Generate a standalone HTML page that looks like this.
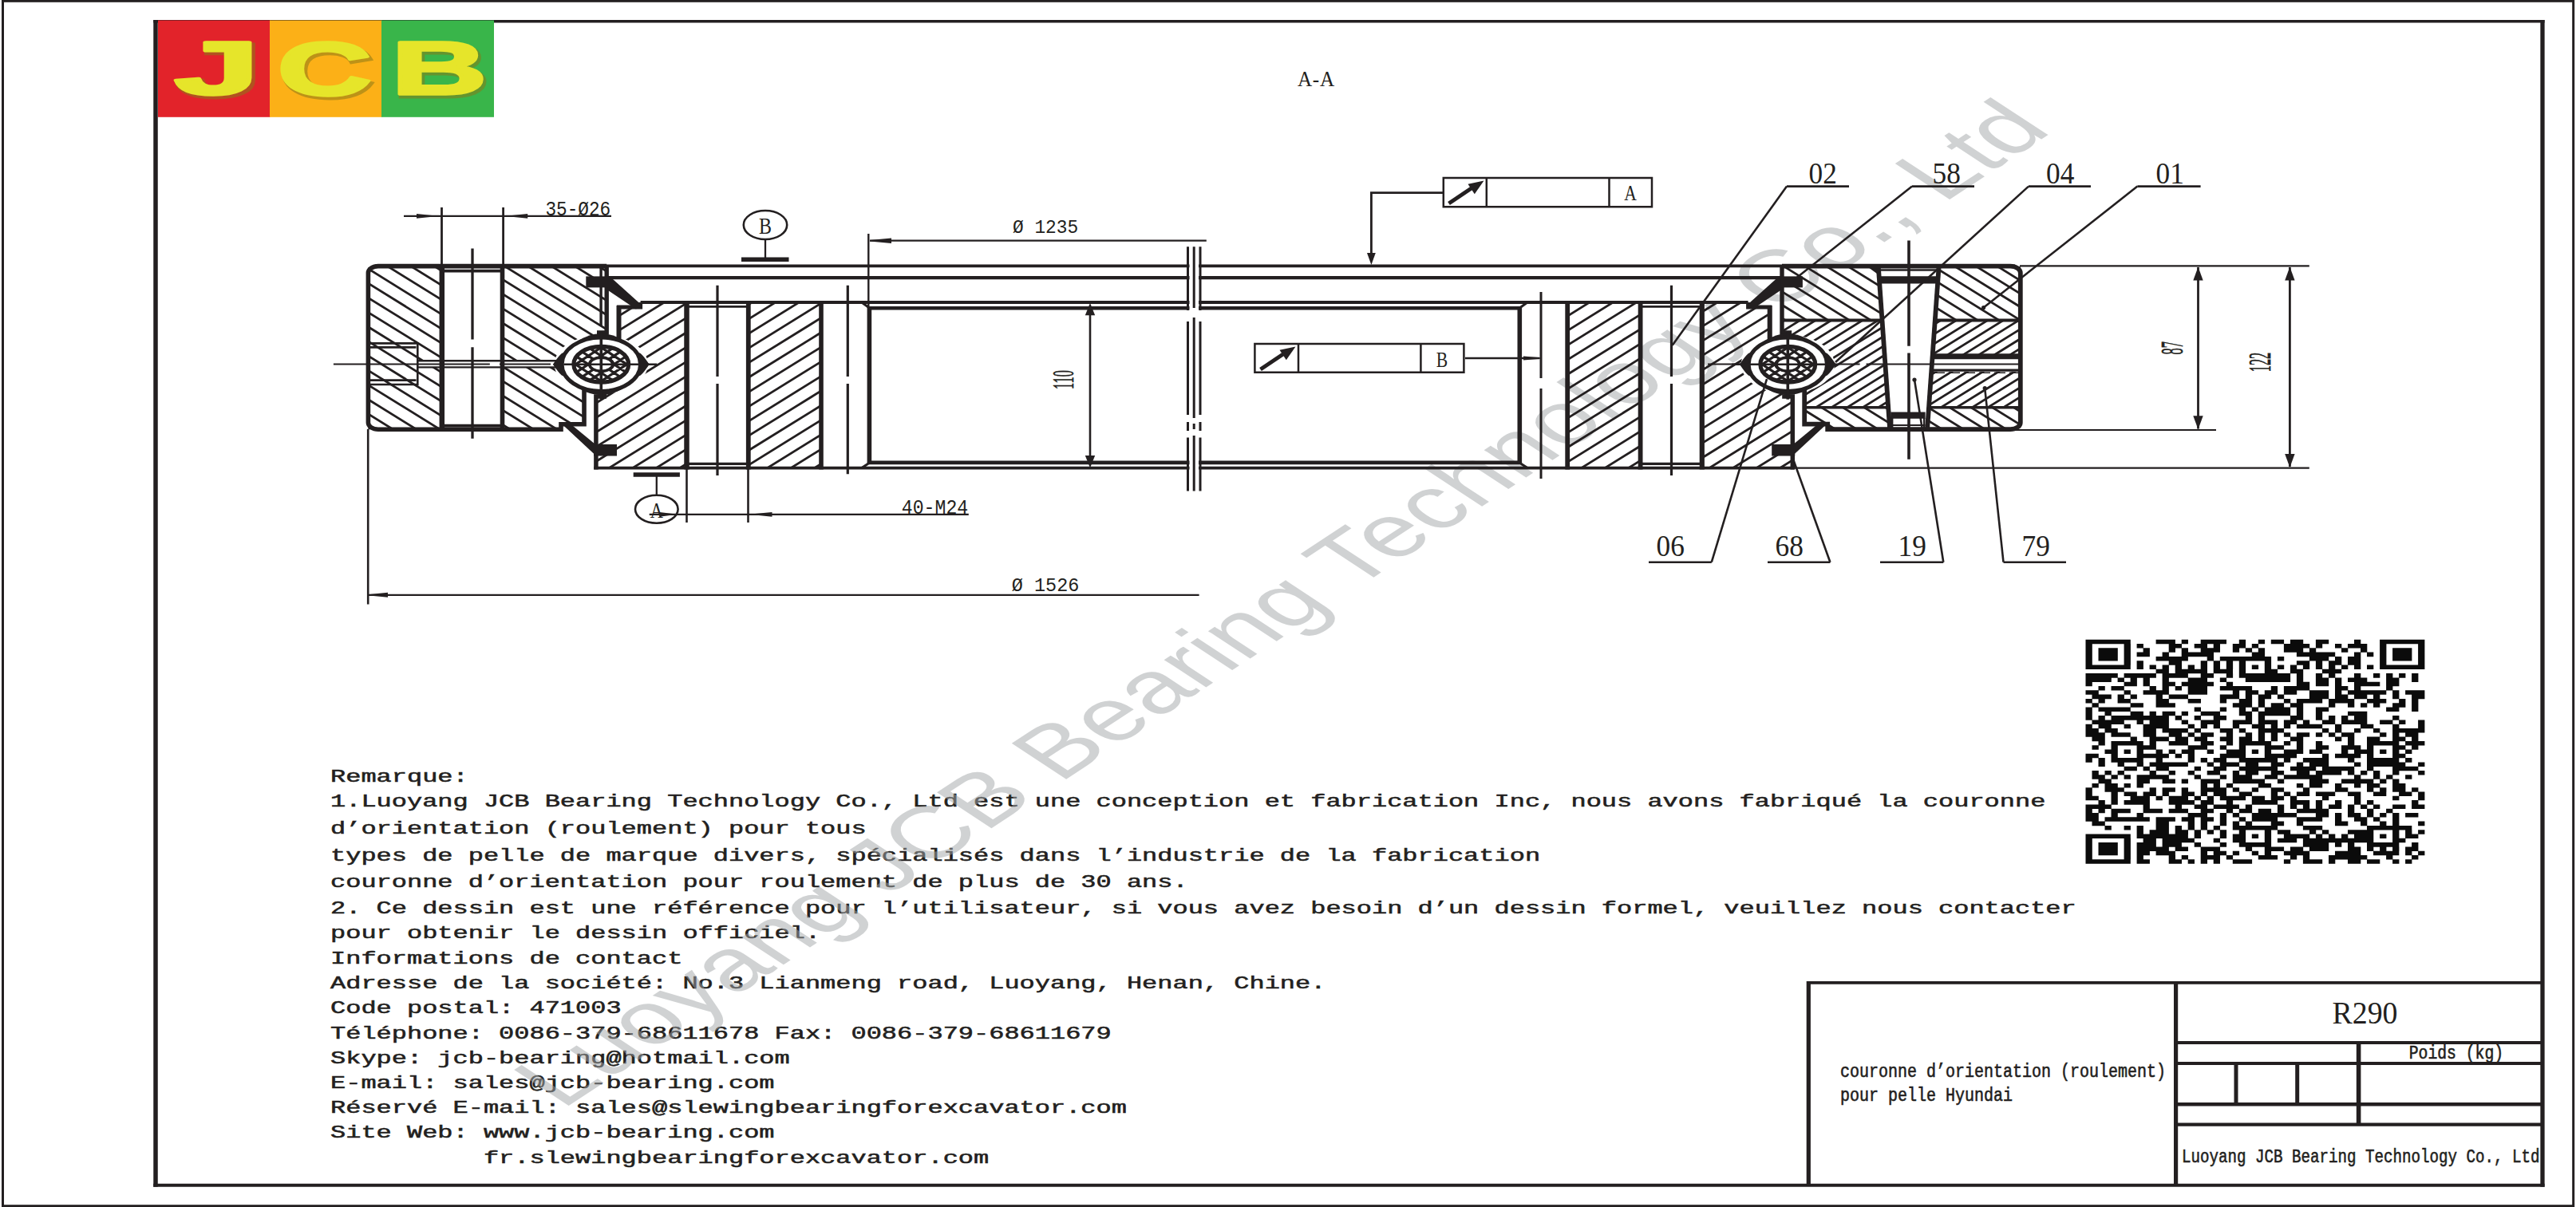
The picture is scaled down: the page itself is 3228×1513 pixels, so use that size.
<!DOCTYPE html>
<html><head><meta charset="utf-8"><title>R290 slewing bearing drawing</title>
<style>html,body{margin:0;padding:0;background:#fff}svg{display:block}</style></head>
<body>
<svg width="3228" height="1513" viewBox="0 0 3228 1513" stroke="#231f20" fill="none" stroke-linecap="butt" stroke-linejoin="miter"><defs><clipPath id="c1"><path d="M461.4,333.9 L760.2,333.9 L760.2,417.0 L754.0,440.0 L732.0,491.0 L732.0,531.7 L703.0,531.7 L703.0,538.2 L461.4,538.2 Z" clip-rule="evenodd"/></clipPath><clipPath id="c2"><path d="M775.5,385.0 L805.0,385.0 L805.0,378.9 L860.5,378.9 L860.5,586.7 L746.9,586.7 L746.9,497.0 L758.0,497.0 L754.0,470.0 L775.5,424.0 Z" clip-rule="evenodd"/></clipPath><clipPath id="c3"><path d="M937.8,378.9 L1029.0,378.9 L1029.0,586.7 L937.8,586.7 Z" clip-rule="evenodd"/></clipPath><clipPath id="c4"><path d="M1964.2,378.9 L2055.4,378.9 L2055.4,586.7 L1964.2,586.7 Z" clip-rule="evenodd"/></clipPath><clipPath id="c5"><path d="M2217.7,385.0 L2188.2,385.0 L2188.2,378.9 L2132.7,378.9 L2132.7,586.7 L2246.3,586.7 L2246.3,497.0 L2235.2,497.0 L2239.2,470.0 L2217.7,424.0 Z" clip-rule="evenodd"/></clipPath><clipPath id="c6"><path d="M2233.0,333.9 L2531.8,333.9 L2531.8,401.5 L2233.0,401.5 Z" clip-rule="evenodd"/></clipPath><clipPath id="c7"><path d="M2233.0,401.5 L2531.8,401.5 L2531.8,510.8 L2261.2,510.8 L2261.2,491.0 L2239.0,470.0 L2233.0,417.0 Z" clip-rule="evenodd"/></clipPath><clipPath id="c8"><path d="M2261.2,510.8 L2531.8,510.8 L2531.8,537.5 L2290.0,537.5 L2290.0,531.7 L2261.2,531.7 Z" clip-rule="evenodd"/></clipPath><clipPath id="c9"><ellipse cx="753.3" cy="456.7" rx="34.4" ry="22.4"/></clipPath><clipPath id="c10"><ellipse cx="2240.3" cy="456.7" rx="34.4" ry="22.4"/></clipPath></defs>
<text transform="translate(414.0,980.0) scale(1.4035,1)" font-family='"Liberation Mono", monospace' font-size="22.8" text-anchor="start" fill="#231f20" stroke="#231f20" stroke-width="0.55" font-weight="normal" xml:space="preserve" >Remarque:</text>
<text transform="translate(414.0,1011.0) scale(1.4035,1)" font-family='"Liberation Mono", monospace' font-size="22.8" text-anchor="start" fill="#231f20" stroke="#231f20" stroke-width="0.55" font-weight="normal" xml:space="preserve" >1.Luoyang JCB Bearing Technology Co., Ltd est une conception et fabrication Inc, nous avons fabriqué la couronne</text>
<text transform="translate(414.0,1045.0) scale(1.4035,1)" font-family='"Liberation Mono", monospace' font-size="22.8" text-anchor="start" fill="#231f20" stroke="#231f20" stroke-width="0.55" font-weight="normal" xml:space="preserve" >d’orientation (roulement) pour tous</text>
<text transform="translate(414.0,1078.5) scale(1.4035,1)" font-family='"Liberation Mono", monospace' font-size="22.8" text-anchor="start" fill="#231f20" stroke="#231f20" stroke-width="0.55" font-weight="normal" xml:space="preserve" >types de pelle de marque divers, spécialisés dans l’industrie de la fabrication</text>
<text transform="translate(414.0,1111.5) scale(1.4035,1)" font-family='"Liberation Mono", monospace' font-size="22.8" text-anchor="start" fill="#231f20" stroke="#231f20" stroke-width="0.55" font-weight="normal" xml:space="preserve" >couronne d’orientation pour roulement de plus de 30 ans.</text>
<text transform="translate(414.0,1145.0) scale(1.4035,1)" font-family='"Liberation Mono", monospace' font-size="22.8" text-anchor="start" fill="#231f20" stroke="#231f20" stroke-width="0.55" font-weight="normal" xml:space="preserve" >2. Ce dessin est une référence pour l’utilisateur, si vous avez besoin d’un dessin formel, veuillez nous contacter</text>
<text transform="translate(414.0,1176.0) scale(1.4035,1)" font-family='"Liberation Mono", monospace' font-size="22.8" text-anchor="start" fill="#231f20" stroke="#231f20" stroke-width="0.55" font-weight="normal" xml:space="preserve" >pour obtenir le dessin officiel.</text>
<text transform="translate(414.0,1207.5) scale(1.4035,1)" font-family='"Liberation Mono", monospace' font-size="22.8" text-anchor="start" fill="#231f20" stroke="#231f20" stroke-width="0.55" font-weight="normal" xml:space="preserve" >Informations de contact</text>
<text transform="translate(414.0,1239.0) scale(1.4035,1)" font-family='"Liberation Mono", monospace' font-size="22.8" text-anchor="start" fill="#231f20" stroke="#231f20" stroke-width="0.55" font-weight="normal" xml:space="preserve" >Adresse de la société: No.3 Lianmeng road, Luoyang, Henan, Chine.</text>
<text transform="translate(414.0,1270.0) scale(1.4035,1)" font-family='"Liberation Mono", monospace' font-size="22.8" text-anchor="start" fill="#231f20" stroke="#231f20" stroke-width="0.55" font-weight="normal" xml:space="preserve" >Code postal: 471003</text>
<text transform="translate(414.0,1301.5) scale(1.4035,1)" font-family='"Liberation Mono", monospace' font-size="22.8" text-anchor="start" fill="#231f20" stroke="#231f20" stroke-width="0.55" font-weight="normal" xml:space="preserve" >Téléphone: 0086-379-68611678 Fax: 0086-379-68611679</text>
<text transform="translate(414.0,1332.5) scale(1.4035,1)" font-family='"Liberation Mono", monospace' font-size="22.8" text-anchor="start" fill="#231f20" stroke="#231f20" stroke-width="0.55" font-weight="normal" xml:space="preserve" >Skype: jcb-bearing@hotmail.com</text>
<text transform="translate(414.0,1364.0) scale(1.4035,1)" font-family='"Liberation Mono", monospace' font-size="22.8" text-anchor="start" fill="#231f20" stroke="#231f20" stroke-width="0.55" font-weight="normal" xml:space="preserve" >E-mail: sales@jcb-bearing.com</text>
<text transform="translate(414.0,1395.0) scale(1.4035,1)" font-family='"Liberation Mono", monospace' font-size="22.8" text-anchor="start" fill="#231f20" stroke="#231f20" stroke-width="0.55" font-weight="normal" xml:space="preserve" >Réservé E-mail: sales@slewingbearingforexcavator.com</text>
<text transform="translate(414.0,1426.0) scale(1.4035,1)" font-family='"Liberation Mono", monospace' font-size="22.8" text-anchor="start" fill="#231f20" stroke="#231f20" stroke-width="0.55" font-weight="normal" xml:space="preserve" >Site Web: www.jcb-bearing.com</text>
<text transform="translate(414.0,1457.5) scale(1.4035,1)" font-family='"Liberation Mono", monospace' font-size="22.8" text-anchor="start" fill="#231f20" stroke="#231f20" stroke-width="0.55" font-weight="normal" xml:space="preserve" >          fr.slewingbearingforexcavator.com</text>
<text transform="translate(704.5,1391.2) scale(1.5235,1) rotate(-45)" font-family='"Liberation Sans", sans-serif' font-size="92.14" fill="#a2a5a8" fill-opacity="0.5" stroke="none">Luoyang JCB Bearing Technology Co., Ltd</text>
<rect x="3.5" y="1.3" width="3221.2" height="1510.4" stroke-width="3" fill="none"/>
<line x1="195.0" y1="25.0" x2="195.0" y2="1487.7" stroke-width="5.5" />
<line x1="3186.0" y1="25.0" x2="3186.0" y2="1487.7" stroke-width="5.3" />
<line x1="192.2" y1="26.8" x2="3188.6" y2="26.8" stroke-width="3.6" />
<line x1="192.2" y1="1485.7" x2="3188.6" y2="1485.7" stroke-width="4.0" />
<rect x="198.0" y="25.5" width="140.5" height="121.3" fill="#e2232a" stroke="none" />
<rect x="338.0" y="25.5" width="140.5" height="121.3" fill="#fcb017" stroke="none" />
<rect x="478.0" y="25.5" width="141.0" height="121.3" fill="#39b54a" stroke="none" />
<path d="M459.4,117.3 L762.2,305.0 M459.4,135.5 L762.2,323.2 M459.4,153.7 L762.2,341.4 M459.4,171.9 L762.2,359.6 M459.4,190.1 L762.2,377.8 M459.4,208.3 L762.2,396.0 M459.4,226.5 L762.2,414.2 M459.4,244.7 L762.2,432.4 M459.4,262.9 L762.2,450.6 M459.4,281.1 L762.2,468.8 M459.4,299.3 L762.2,487.0 M459.4,317.5 L762.2,505.2 M459.4,335.7 L762.2,523.4 M459.4,353.9 L762.2,541.6 M459.4,372.1 L762.2,559.8 M459.4,390.3 L762.2,578.0 M459.4,408.5 L762.2,596.2 M459.4,426.7 L762.2,614.4 M459.4,444.9 L762.2,632.6 M459.4,463.1 L762.2,650.8 M459.4,481.3 L762.2,669.0 M459.4,499.5 L762.2,687.2 M459.4,517.7 L762.2,705.4 M459.4,535.9 L762.2,723.6 M459.4,554.1 L762.2,741.8 M459.4,572.3 L762.2,760.0" stroke-width="2.8" fill="none" clip-path="url(#c1)"/>
<path d="M744.9,360.1 L862.5,287.2 M744.9,378.4 L862.5,305.5 M744.9,396.7 L862.5,323.8 M744.9,415.0 L862.5,342.1 M744.9,433.3 L862.5,360.4 M744.9,451.6 L862.5,378.7 M744.9,469.9 L862.5,397.0 M744.9,488.2 L862.5,415.3 M744.9,506.5 L862.5,433.6 M744.9,524.8 L862.5,451.9 M744.9,543.1 L862.5,470.2 M744.9,561.4 L862.5,488.5 M744.9,579.7 L862.5,506.8 M744.9,598.0 L862.5,525.1 M744.9,616.3 L862.5,543.4 M744.9,634.6 L862.5,561.7 M744.9,652.9 L862.5,580.0 M744.9,671.2 L862.5,598.3 M744.9,689.5 L862.5,616.6" stroke-width="2.8" fill="none" clip-path="url(#c2)"/>
<path d="M935.8,346.4 L1031.0,287.4 M935.8,364.7 L1031.0,305.7 M935.8,383.0 L1031.0,324.0 M935.8,401.3 L1031.0,342.3 M935.8,419.6 L1031.0,360.6 M935.8,437.9 L1031.0,378.9 M935.8,456.2 L1031.0,397.2 M935.8,474.5 L1031.0,415.5 M935.8,492.8 L1031.0,433.8 M935.8,511.1 L1031.0,452.1 M935.8,529.4 L1031.0,470.4 M935.8,547.7 L1031.0,488.7 M935.8,566.0 L1031.0,507.0 M935.8,584.3 L1031.0,525.3 M935.8,602.6 L1031.0,543.6 M935.8,620.9 L1031.0,561.9 M935.8,639.2 L1031.0,580.2 M935.8,657.5 L1031.0,598.5 M935.8,675.8 L1031.0,616.8" stroke-width="2.8" fill="none" clip-path="url(#c3)"/>
<path d="M1962.2,342.5 L2057.4,283.4 M1962.2,360.8 L2057.4,301.7 M1962.2,379.1 L2057.4,320.0 M1962.2,397.4 L2057.4,338.3 M1962.2,415.7 L2057.4,356.6 M1962.2,434.0 L2057.4,374.9 M1962.2,452.3 L2057.4,393.2 M1962.2,470.6 L2057.4,411.5 M1962.2,488.9 L2057.4,429.8 M1962.2,507.2 L2057.4,448.1 M1962.2,525.5 L2057.4,466.4 M1962.2,543.8 L2057.4,484.7 M1962.2,562.1 L2057.4,503.0 M1962.2,580.4 L2057.4,521.3 M1962.2,598.7 L2057.4,539.6 M1962.2,617.0 L2057.4,557.9 M1962.2,635.3 L2057.4,576.2 M1962.2,653.6 L2057.4,594.5 M1962.2,671.9 L2057.4,612.8" stroke-width="2.8" fill="none" clip-path="url(#c4)"/>
<path d="M2130.7,355.7 L2248.3,282.8 M2130.7,374.0 L2248.3,301.1 M2130.7,392.3 L2248.3,319.4 M2130.7,410.6 L2248.3,337.7 M2130.7,428.9 L2248.3,356.0 M2130.7,447.2 L2248.3,374.3 M2130.7,465.5 L2248.3,392.6 M2130.7,483.8 L2248.3,410.9 M2130.7,502.1 L2248.3,429.2 M2130.7,520.4 L2248.3,447.5 M2130.7,538.7 L2248.3,465.8 M2130.7,557.0 L2248.3,484.1 M2130.7,575.3 L2248.3,502.4 M2130.7,593.6 L2248.3,520.7 M2130.7,611.9 L2248.3,539.0 M2130.7,630.2 L2248.3,557.3 M2130.7,648.5 L2248.3,575.6 M2130.7,666.8 L2248.3,593.9 M2130.7,685.1 L2248.3,612.2" stroke-width="2.8" fill="none" clip-path="url(#c5)"/>
<path d="M2231.0,115.4 L2533.8,303.1 M2231.0,132.0 L2533.8,319.7 M2231.0,148.6 L2533.8,336.3 M2231.0,165.2 L2533.8,352.9 M2231.0,181.8 L2533.8,369.5 M2231.0,198.4 L2533.8,386.1 M2231.0,215.0 L2533.8,402.7 M2231.0,231.6 L2533.8,419.3 M2231.0,248.2 L2533.8,435.9 M2231.0,264.8 L2533.8,452.5 M2231.0,281.4 L2533.8,469.1 M2231.0,298.0 L2533.8,485.7 M2231.0,314.6 L2533.8,502.3 M2231.0,331.2 L2533.8,518.9 M2231.0,347.8 L2533.8,535.5 M2231.0,364.4 L2533.8,552.1 M2231.0,381.0 L2533.8,568.7 M2231.0,397.6 L2533.8,585.3 M2231.0,414.2 L2533.8,601.9 M2231.0,430.8 L2533.8,618.5" stroke-width="2.8" fill="none" clip-path="url(#c6)"/>
<path d="M2231.0,380.3 L2533.8,192.6 M2231.0,392.5 L2533.8,204.7 M2231.0,404.6 L2533.8,216.9 M2231.0,416.8 L2533.8,229.0 M2231.0,428.9 L2533.8,241.2 M2231.0,441.1 L2533.8,253.3 M2231.0,453.2 L2533.8,265.5 M2231.0,465.4 L2533.8,277.6 M2231.0,477.5 L2533.8,289.8 M2231.0,489.7 L2533.8,301.9 M2231.0,501.8 L2533.8,314.1 M2231.0,514.0 L2533.8,326.2 M2231.0,526.1 L2533.8,338.4 M2231.0,538.3 L2533.8,350.5 M2231.0,550.4 L2533.8,362.7 M2231.0,562.6 L2533.8,374.8 M2231.0,574.7 L2533.8,387.0 M2231.0,586.9 L2533.8,399.1 M2231.0,599.0 L2533.8,411.3 M2231.0,611.2 L2533.8,423.4 M2231.0,623.3 L2533.8,435.6 M2231.0,635.5 L2533.8,447.7 M2231.0,647.6 L2533.8,459.9 M2231.0,659.8 L2533.8,472.0 M2231.0,671.9 L2533.8,484.2 M2231.0,684.1 L2533.8,496.3 M2231.0,696.2 L2533.8,508.5 M2231.0,708.4 L2533.8,520.6 M2231.0,720.5 L2533.8,532.8" stroke-width="2.8" fill="none" clip-path="url(#c7)"/>
<path d="M2259.2,313.7 L2533.8,484.0 M2259.2,330.3 L2533.8,500.6 M2259.2,346.9 L2533.8,517.2 M2259.2,363.5 L2533.8,533.8 M2259.2,380.1 L2533.8,550.4 M2259.2,396.7 L2533.8,567.0 M2259.2,413.3 L2533.8,583.6 M2259.2,429.9 L2533.8,600.2 M2259.2,446.5 L2533.8,616.8 M2259.2,463.1 L2533.8,633.4 M2259.2,479.7 L2533.8,650.0 M2259.2,496.3 L2533.8,666.6 M2259.2,512.9 L2533.8,683.2 M2259.2,529.5 L2533.8,699.8 M2259.2,546.1 L2533.8,716.4 M2259.2,562.7 L2533.8,733.0" stroke-width="2.8" fill="none" clip-path="url(#c8)"/>
<rect x="553.8" y="333.9" width="75.7" height="204.3" fill="#ffffff" stroke="none" />
<rect x="523.3" y="452.3" width="175.0" height="8.2" fill="#ffffff" stroke="none" />
<ellipse cx="753.3" cy="456.7" rx="58.5" ry="36.8" fill="#fff" stroke="none"/>
<ellipse cx="2240.3" cy="456.7" rx="58.5" ry="36.8" fill="#fff" stroke="none"/>
<polygon points="2353.7,333.9 2429.7,333.9 2415.0,539.0 2368.2,539.0" fill="#ffffff" stroke="none" />
<rect x="2420.0" y="445.0" width="112.0" height="21.0" fill="#ffffff" stroke="none" />
<line x1="470.0" y1="333.3" x2="1490.5" y2="333.3" stroke-width="3.8" />
<line x1="1502.0" y1="333.3" x2="2525.0" y2="333.3" stroke-width="3.8" />
<line x1="762.0" y1="348.2" x2="1490.5" y2="348.2" stroke-width="4.2" />
<line x1="1502.0" y1="348.2" x2="2231.5" y2="348.2" stroke-width="4.2" />
<line x1="802.6" y1="379.0" x2="1490.5" y2="379.0" stroke-width="3.8" />
<line x1="1502.0" y1="379.0" x2="2190.6" y2="379.0" stroke-width="3.8" />
<line x1="1089.0" y1="386.2" x2="1490.5" y2="386.2" stroke-width="4.6" />
<line x1="1502.0" y1="386.2" x2="1904.5" y2="386.2" stroke-width="4.6" />
<line x1="1089.0" y1="579.9" x2="1490.5" y2="579.9" stroke-width="4.6" />
<line x1="1502.0" y1="579.9" x2="1904.5" y2="579.9" stroke-width="4.6" />
<line x1="744.2" y1="586.6" x2="1490.5" y2="586.6" stroke-width="3.8" />
<line x1="1502.0" y1="586.6" x2="2249.0" y2="586.6" stroke-width="3.8" />
<path d="M1488.5,309.3 V389 M1488.5,403 V520 M1488.5,529 V540 M1488.5,548.5 V615.4" stroke-width="3"/>
<path d="M1504.0,309.3 V389 M1504.0,403 V520 M1504.0,529 V540 M1504.0,548.5 V615.4" stroke-width="3"/>
<path d="M1496.2,309.3 V386 M1496.2,398 V524 M1496.2,531 V538 M1496.2,546 V615.4" stroke-width="3"/>
<path d="M760.2,333.6 H474 A12.6,8.5 0 0 0 461.4,342.1 V529.7 A12.6,8.5 0 0 0 474,538.2 H703 V531.7 H732 V489" stroke-width="5.6"/>
<path d="M760.2,332 V417 H748" stroke-width="5.4"/>
<line x1="753.1" y1="334.0" x2="753.1" y2="408.7" stroke-width="3.4" />
<line x1="553.8" y1="333.0" x2="553.8" y2="539.0" stroke-width="6.5" />
<line x1="629.5" y1="333.0" x2="629.5" y2="539.0" stroke-width="5.6" />
<line x1="553.8" y1="339.6" x2="629.5" y2="339.6" stroke-width="3.6" />
<line x1="553.8" y1="533.6" x2="629.5" y2="533.6" stroke-width="3.6" />
<path d="M592,311.6 V425.6 M592,435.2 V549.8" stroke-width="3.3"/>
<path d="M464,430.4 H523.3 V482 H464 M464,435.4 H521.5 M464,476.6 H521.5" stroke-width="2.6"/>
<line x1="523.3" y1="452.3" x2="697.0" y2="452.3" stroke-width="2.4" />
<line x1="523.3" y1="460.4" x2="697.0" y2="460.4" stroke-width="2.4" />
<path d="M417.9,456.5 H613.8 M626,456.5 H690" stroke-width="2.2"/>
<path d="M802.6,379 V385 H775.5 V426" stroke-width="5"/>
<line x1="775.5" y1="383.0" x2="775.5" y2="428.0" stroke-width="6" />
<path d="M760,497 H746.9 V588.4" stroke-width="5.5"/>
<line x1="860.5" y1="377.2" x2="860.5" y2="588.4" stroke-width="6.5" />
<line x1="937.8" y1="377.2" x2="937.8" y2="588.4" stroke-width="5.8" />
<line x1="860.5" y1="384.4" x2="937.8" y2="384.4" stroke-width="2.6" />
<line x1="860.5" y1="581.4" x2="937.8" y2="581.4" stroke-width="3.2" />
<line x1="1029.0" y1="377.2" x2="1029.0" y2="588.4" stroke-width="5.6" />
<line x1="1089.4" y1="384.0" x2="1089.4" y2="582.0" stroke-width="5.6" />
<path d="M1079.8,379.0 L1089.8,386.2" stroke-width="3.0" fill="none" />
<path d="M1079.8,586.6 L1089.8,579.9" stroke-width="3.0" fill="none" />
<path d="M899,357.8 V472 M899,481 V596" stroke-width="3.2"/>
<path d="M1062.3,357.8 V472 M1062.3,481 V594.3" stroke-width="3.2"/>
<polygon points="734.3,346.4 763.0,346.4 763.0,360.4 734.3,360.4" fill="#231f20" stroke="none" />
<polygon points="762.0,349.0 768.0,350.0 803.0,381.5 797.0,387.5 762.0,364.0" fill="#231f20" stroke="none" />
<polygon points="744.0,557.0 773.0,557.0 773.0,571.5 744.0,571.5" fill="#231f20" stroke="none" />
<polygon points="706.0,533.2 717.5,533.6 746.0,557.0 746.0,570.5" fill="#231f20" stroke="none" />
<path d="M693.0,456.7 C715.0,430.7 733.3,418.3 753.3,418.3 C773.3,418.3 791.5999999999999,430.7 813.5999999999999,456.7 C791.5999999999999,482.7 773.3,495.09999999999997 753.3,495.09999999999997 C733.3,495.09999999999997 715.0,482.7 693.0,456.7 Z" fill="#231f20" stroke="none"/>
<path d="M698.5,456.7 C717.0,434.7 733.3,422.90000000000003 753.3,422.90000000000003 C773.3,422.90000000000003 789.5999999999999,434.7 808.0999999999999,456.7 C789.5999999999999,478.7 773.3,490.49999999999994 753.3,490.49999999999994 C733.3,490.49999999999994 717.0,478.7 698.5,456.7 Z" fill="#fff" stroke="none"/>
<ellipse cx="753.3" cy="456.7" rx="49.2" ry="33.8" stroke-width="5" fill="#fff"/>
<path d="M693.0,456.7 C701.0,444.7 705.0,440.7 707.3,442.7 C703.3,451.7 703.3,461.7 707.3,470.7 C705.0,472.7 701.0,468.7 693.0,456.7 Z" fill="#231f20" stroke="none"/>
<path d="M813.5999999999999,456.7 C805.5999999999999,444.7 801.5999999999999,440.7 799.3,442.7 C803.3,451.7 803.3,461.7 799.3,470.7 C801.5999999999999,472.7 805.5999999999999,468.7 813.5999999999999,456.7 Z" fill="#231f20" stroke="none"/>
<path d="M713.3,366.7 L793.3,419.5 M713.3,419.5 L793.3,366.7 M713.3,377.3 L793.3,430.1 M713.3,430.1 L793.3,377.3 M713.3,387.9 L793.3,440.7 M713.3,440.7 L793.3,387.9 M713.3,398.5 L793.3,451.3 M713.3,451.3 L793.3,398.5 M713.3,409.1 L793.3,461.9 M713.3,461.9 L793.3,409.1 M713.3,419.7 L793.3,472.5 M713.3,472.5 L793.3,419.7 M713.3,430.3 L793.3,483.1 M713.3,483.1 L793.3,430.3 M713.3,440.9 L793.3,493.7 M713.3,493.7 L793.3,440.9 M713.3,451.5 L793.3,504.3 M713.3,504.3 L793.3,451.5 M713.3,462.1 L793.3,514.9 M713.3,514.9 L793.3,462.1 M713.3,472.7 L793.3,525.5 M713.3,525.5 L793.3,472.7 M713.3,483.3 L793.3,536.1 M713.3,536.1 L793.3,483.3 M713.3,493.9 L793.3,546.7 M713.3,546.7 L793.3,493.9" stroke-width="3.2" clip-path="url(#c9)"/>
<ellipse cx="753.3" cy="456.7" rx="34.4" ry="22.4" stroke-width="5.2"/>
<ellipse cx="753.3" cy="456.7" rx="14.6" ry="8.6" stroke-width="3.6" fill="#fff"/>
<path d="M755.3,447.2 A15,9.5 0 0 1 755.3,466.2 A11,9.5 0 0 0 755.3,447.2 Z" fill="#231f20" stroke="none"/>
<line x1="706.3" y1="456.7" x2="823.3" y2="456.7" stroke-width="2.6" />
<line x1="753.3" y1="416.7" x2="753.3" y2="500.7" stroke-width="3.6" />
<line x1="1904.3" y1="384.0" x2="1904.3" y2="582.0" stroke-width="5.6" />
<path d="M1914.0,379.0 L1904.0,386.2" stroke-width="3.0" fill="none" />
<path d="M1914.0,586.6 L1904.0,579.9" stroke-width="3.0" fill="none" />
<path d="M1931,366 V474 M1931,487 V600" stroke-width="3.0"/>
<line x1="1964.2" y1="377.2" x2="1964.2" y2="588.4" stroke-width="5.8" />
<line x1="2055.6" y1="377.2" x2="2055.6" y2="588.4" stroke-width="5.8" />
<line x1="2132.8" y1="377.2" x2="2132.8" y2="588.4" stroke-width="6.2" />
<line x1="2055.6" y1="384.4" x2="2132.8" y2="384.4" stroke-width="2.6" />
<line x1="2055.6" y1="581.4" x2="2132.8" y2="581.4" stroke-width="3.2" />
<path d="M2094.5,357.8 V472 M2094.5,481 V596" stroke-width="3.2"/>
<path d="M2190.6,379 V385 H2217.7 V426" stroke-width="5"/>
<line x1="2217.7" y1="383.0" x2="2217.7" y2="428.0" stroke-width="6" />
<path d="M2233.2,497 H2246.2999999999997 V588.4" stroke-width="5.5"/>
<path d="M2233.0,333.6 H2519.2 A12.6,8.5 0 0 1 2531.7999999999997,342.1 V529.7 A12.6,8.5 0 0 1 2519.2,538.2 H2290.2 V531.7 H2261.2 V489" stroke-width="5.8"/>
<path d="M2233.0,332 V417 H2245.2" stroke-width="5.4"/>
<line x1="2233.0" y1="401.5" x2="2356.0" y2="401.5" stroke-width="4.2" />
<line x1="2427.0" y1="401.5" x2="2531.0" y2="401.5" stroke-width="4.2" />
<line x1="2262.0" y1="510.8" x2="2366.0" y2="510.8" stroke-width="3.6" />
<line x1="2418.0" y1="510.8" x2="2531.0" y2="510.8" stroke-width="3.6" />
<line x1="2422.0" y1="446.8" x2="2531.0" y2="446.8" stroke-width="7.0" />
<line x1="2422.0" y1="464.2" x2="2531.0" y2="464.2" stroke-width="3.2" />
<path d="M2423,467.2 H2531" stroke-width="1.6" stroke-dasharray="14 5"/>
<line x1="2140.0" y1="456.5" x2="2330.6" y2="456.5" stroke-width="2.2" />
<line x1="2338.6" y1="456.5" x2="2531.0" y2="456.5" stroke-width="2.2" />
<path d="M2353.7,333.0 L2368.2,539.0" stroke-width="5.8" fill="none" />
<path d="M2429.7,333.0 L2415.0,539.0" stroke-width="5.8" fill="none" />
<line x1="2356.0" y1="350.9" x2="2427.5" y2="350.9" stroke-width="9.4" />
<line x1="2354.0" y1="338.6" x2="2429.4" y2="338.6" stroke-width="2.5" />
<polygon points="2341.0,335.0 2352.0,335.0 2352.0,343.0" fill="#231f20" stroke="none" />
<line x1="2369.3" y1="520.7" x2="2412.6" y2="520.7" stroke-width="8.3" />
<line x1="2370.6" y1="533.0" x2="2412.4" y2="533.0" stroke-width="2.2" />
<line x1="2371.2" y1="524.0" x2="2371.2" y2="539.0" stroke-width="2.4" />
<line x1="2411.2" y1="524.0" x2="2411.2" y2="539.0" stroke-width="2.4" />
<path d="M2392,301.5 V433.7 M2392,442.6 V575.7" stroke-width="3.6"/>
<polygon points="2258.9,346.4 2230.2,346.4 2230.2,360.4 2258.9,360.4" fill="#231f20" stroke="none" />
<polygon points="2231.2,349.0 2225.2,350.0 2190.2,381.5 2196.2,387.5 2231.2,364.0" fill="#231f20" stroke="none" />
<polygon points="2249.2,557.0 2220.2,557.0 2220.2,571.5 2249.2,571.5" fill="#231f20" stroke="none" />
<polygon points="2287.2,533.2 2275.7,533.6 2247.2,557.0 2247.2,570.5" fill="#231f20" stroke="none" />
<path d="M2180.0,456.7 C2202.0,430.7 2220.3,418.3 2240.3,418.3 C2260.3,418.3 2278.6000000000004,430.7 2300.6000000000004,456.7 C2278.6000000000004,482.7 2260.3,495.09999999999997 2240.3,495.09999999999997 C2220.3,495.09999999999997 2202.0,482.7 2180.0,456.7 Z" fill="#231f20" stroke="none"/>
<path d="M2185.5,456.7 C2204.0,434.7 2220.3,422.90000000000003 2240.3,422.90000000000003 C2260.3,422.90000000000003 2276.6000000000004,434.7 2295.1000000000004,456.7 C2276.6000000000004,478.7 2260.3,490.49999999999994 2240.3,490.49999999999994 C2220.3,490.49999999999994 2204.0,478.7 2185.5,456.7 Z" fill="#fff" stroke="none"/>
<ellipse cx="2240.3" cy="456.7" rx="49.2" ry="33.8" stroke-width="5" fill="#fff"/>
<path d="M2180.0,456.7 C2188.0,444.7 2192.0,440.7 2194.3,442.7 C2190.3,451.7 2190.3,461.7 2194.3,470.7 C2192.0,472.7 2188.0,468.7 2180.0,456.7 Z" fill="#231f20" stroke="none"/>
<path d="M2300.6000000000004,456.7 C2292.6000000000004,444.7 2288.6000000000004,440.7 2286.3,442.7 C2290.3,451.7 2290.3,461.7 2286.3,470.7 C2288.6000000000004,472.7 2292.6000000000004,468.7 2300.6000000000004,456.7 Z" fill="#231f20" stroke="none"/>
<path d="M2200.3,366.7 L2280.3,419.5 M2200.3,419.5 L2280.3,366.7 M2200.3,377.3 L2280.3,430.1 M2200.3,430.1 L2280.3,377.3 M2200.3,387.9 L2280.3,440.7 M2200.3,440.7 L2280.3,387.9 M2200.3,398.5 L2280.3,451.3 M2200.3,451.3 L2280.3,398.5 M2200.3,409.1 L2280.3,461.9 M2200.3,461.9 L2280.3,409.1 M2200.3,419.7 L2280.3,472.5 M2200.3,472.5 L2280.3,419.7 M2200.3,430.3 L2280.3,483.1 M2200.3,483.1 L2280.3,430.3 M2200.3,440.9 L2280.3,493.7 M2200.3,493.7 L2280.3,440.9 M2200.3,451.5 L2280.3,504.3 M2200.3,504.3 L2280.3,451.5 M2200.3,462.1 L2280.3,514.9 M2200.3,514.9 L2280.3,462.1 M2200.3,472.7 L2280.3,525.5 M2200.3,525.5 L2280.3,472.7 M2200.3,483.3 L2280.3,536.1 M2200.3,536.1 L2280.3,483.3 M2200.3,493.9 L2280.3,546.7 M2200.3,546.7 L2280.3,493.9" stroke-width="3.2" clip-path="url(#c10)"/>
<ellipse cx="2240.3" cy="456.7" rx="34.4" ry="22.4" stroke-width="5.2"/>
<ellipse cx="2240.3" cy="456.7" rx="14.6" ry="8.6" stroke-width="3.6" fill="#fff"/>
<path d="M2238.3,447.2 A15,9.5 0 0 0 2238.3,466.2 A11,9.5 0 0 1 2238.3,447.2 Z" fill="#231f20" stroke="none"/>
<line x1="2170.3" y1="456.7" x2="2287.3" y2="456.7" stroke-width="2.6" />
<line x1="2240.3" y1="416.7" x2="2240.3" y2="500.7" stroke-width="3.6" />
<line x1="2531.0" y1="333.3" x2="2893.8" y2="333.3" stroke-width="2.2" />
<line x1="2520.0" y1="539.0" x2="2777.0" y2="539.0" stroke-width="2.2" />
<line x1="2249.0" y1="586.7" x2="2893.8" y2="586.7" stroke-width="2.2" />
<line x1="553.5" y1="260.0" x2="553.5" y2="333.0" stroke-width="2.8" />
<line x1="630.6" y1="260.0" x2="630.6" y2="333.0" stroke-width="2.8" />
<line x1="506.0" y1="270.9" x2="766.0" y2="270.9" stroke-width="2.3" />
<polygon points="522.0,268.0 522.0,273.8 541.5,271.7 541.5,270.1" fill="#231f20" stroke="none" />
<polygon points="661.2,268.0 661.2,273.8 641.4,271.7 641.4,270.1" fill="#231f20" stroke="none" />
<text transform="translate(683.4,270.2) scale(0.8683,1)" font-family='"Liberation Mono", monospace' font-size="26.2" text-anchor="start" fill="#231f20" stroke="none" font-weight="normal" xml:space="preserve" >35-Ø26</text>
<ellipse cx="959" cy="282" rx="27.2" ry="18" stroke-width="2.6"/>
<line x1="959.0" y1="300.0" x2="959.0" y2="325.0" stroke-width="2.3" />
<line x1="929.0" y1="325.3" x2="988.5" y2="325.3" stroke-width="5.5" />
<text transform="translate(959.0,293.0) scale(0.8000,1)" font-family='"Liberation Serif", serif' font-size="30" text-anchor="middle" fill="#231f20" stroke="none" font-weight="normal" xml:space="preserve" >B</text>
<line x1="1088.3" y1="293.0" x2="1088.3" y2="386.0" stroke-width="2.4" />
<line x1="1090.0" y1="301.7" x2="1511.8" y2="301.7" stroke-width="2.3" />
<polygon points="1117.0,298.4 1117.0,305.0 1090.0,302.5 1090.0,300.9" fill="#231f20" stroke="none" />
<text transform="translate(1269.0,292.0) scale(0.9282,1)" font-family='"Liberation Mono", monospace' font-size="24.6" text-anchor="start" fill="#231f20" stroke="none" font-weight="normal" xml:space="preserve" >Ø 1235</text>
<line x1="1366.0" y1="390.0" x2="1366.0" y2="575.0" stroke-width="2.6" />
<polygon points="1366.0,379.8 1372.2,395.3 1359.8,395.3" fill="#231f20" stroke="none" />
<polygon points="1366.0,586.4 1359.8,570.9 1372.2,570.9" fill="#231f20" stroke="none" />
<text transform="translate(1345.0,476.0) rotate(-90) scale(0.4250,1)" font-family='"Liberation Serif", serif' font-size="38.5" text-anchor="middle" fill="#231f20" stroke="#231f20" stroke-width="0.6" font-weight="normal" xml:space="preserve" >110</text>
<path d="M1808.8,223 H2070 V259.3 H1808.8 Z M1862.8,223 V259.3 M2016.5,223 V259.3" stroke-width="2.5"/>
<text transform="translate(2043.0,251.0) scale(0.8000,1)" font-family='"Liberation Serif", serif' font-size="27" text-anchor="middle" fill="#231f20" stroke="none" font-weight="normal" xml:space="preserve" >A</text>
<path d="M1808.8,241.7 H1718.4 V322" stroke-width="2.8"/>
<polygon points="1718.4,332.0 1713.0,317.0 1723.8,317.0" fill="#231f20" stroke="none" />
<line x1="1815.5" y1="255.0" x2="1847.5" y2="233.5" stroke-width="5" />
<polygon points="1859.5,226.5 1847.8,243.2 1839.5,230.7" fill="#231f20" stroke="none" />
<path d="M1572.4,430.9 H1834.4 V466.8 H1572.4 Z M1627,430.9 V466.8 M1780.4,430.9 V466.8" stroke-width="2.5"/>
<text transform="translate(1807.0,459.5) scale(0.8000,1)" font-family='"Liberation Serif", serif' font-size="27" text-anchor="middle" fill="#231f20" stroke="none" font-weight="normal" xml:space="preserve" >B</text>
<line x1="1579.5" y1="463.0" x2="1611.5" y2="441.5" stroke-width="5" />
<polygon points="1623.5,434.5 1611.8,451.2 1603.5,438.7" fill="#231f20" stroke="none" />
<line x1="1836.0" y1="449.0" x2="1929.0" y2="449.0" stroke-width="2.3" />
<polygon points="1909.0,446.4 1909.0,451.6 1930.0,449.8 1930.0,448.2" fill="#231f20" stroke="none" />
<line x1="793.7" y1="595.0" x2="851.9" y2="595.0" stroke-width="5.5" />
<line x1="822.8" y1="597.0" x2="822.8" y2="621.0" stroke-width="2.3" />
<ellipse cx="822.8" cy="638.3" rx="26.8" ry="17.5" stroke-width="2.6"/>
<text transform="translate(822.8,649.0) scale(0.8000,1)" font-family='"Liberation Serif", serif' font-size="28" text-anchor="middle" fill="#231f20" stroke="none" font-weight="normal" xml:space="preserve" >A</text>
<line x1="860.5" y1="588.0" x2="860.5" y2="655.0" stroke-width="2.6" />
<line x1="937.5" y1="588.0" x2="937.5" y2="655.0" stroke-width="2.6" />
<line x1="813.7" y1="644.8" x2="1213.8" y2="644.8" stroke-width="2.3" />
<polygon points="826.5,641.9 826.5,647.7 843.0,645.6 843.0,644.0" fill="#231f20" stroke="none" />
<polygon points="967.5,641.9 967.5,647.7 946.0,645.6 946.0,644.0" fill="#231f20" stroke="none" />
<text transform="translate(1129.8,644.2) scale(0.9157,1)" font-family='"Liberation Mono", monospace' font-size="25.3" text-anchor="start" fill="#231f20" stroke="none" font-weight="normal" xml:space="preserve" >40-M24</text>
<line x1="461.2" y1="538.0" x2="461.2" y2="757.5" stroke-width="2.6" />
<line x1="462.0" y1="745.8" x2="1502.6" y2="745.8" stroke-width="2.3" />
<polygon points="486.0,742.8 486.0,748.8 463.0,746.6 463.0,745.0" fill="#231f20" stroke="none" />
<text transform="translate(1267.8,741.0) scale(0.9553,1)" font-family='"Liberation Mono", monospace' font-size="24.6" text-anchor="start" fill="#231f20" stroke="none" font-weight="normal" xml:space="preserve" >Ø 1526</text>
<line x1="2754.5" y1="335.0" x2="2754.5" y2="537.5" stroke-width="2.8" />
<polygon points="2754.5,334.4 2760.7,351.4 2748.3,351.4" fill="#231f20" stroke="none" />
<polygon points="2754.5,538.2 2748.3,521.2 2760.7,521.2" fill="#231f20" stroke="none" />
<line x1="2869.4" y1="335.0" x2="2869.4" y2="585.0" stroke-width="2.8" />
<polygon points="2869.4,334.4 2875.6,351.4 2863.2,351.4" fill="#231f20" stroke="none" />
<polygon points="2869.4,586.0 2863.2,569.0 2875.6,569.0" fill="#231f20" stroke="none" />
<text transform="translate(2734.5,436.2) rotate(-90) scale(0.4100,1)" font-family='"Liberation Serif", serif' font-size="40" text-anchor="middle" fill="#231f20" stroke="#231f20" stroke-width="0.7" font-weight="normal" xml:space="preserve" >87</text>
<text transform="translate(2845.2,454.0) rotate(-90) scale(0.4100,1)" font-family='"Liberation Serif", serif' font-size="40" text-anchor="middle" fill="#231f20" stroke="#231f20" stroke-width="0.7" font-weight="normal" xml:space="preserve" >122</text>
<line x1="2239.0" y1="233.6" x2="2317.0" y2="233.6" stroke-width="2.8" />
<line x1="2239.0" y1="233.6" x2="2095.7" y2="432.7" stroke-width="2.6" />
<text transform="translate(2266.5,229.6) scale(0.9500,1)" font-family='"Liberation Serif", serif' font-size="37.2" text-anchor="start" fill="#231f20" stroke="none" font-weight="normal" xml:space="preserve" >02</text>
<line x1="2396.0" y1="233.6" x2="2474.0" y2="233.6" stroke-width="2.8" />
<line x1="2396.0" y1="233.6" x2="2249.0" y2="350.0" stroke-width="2.6" />
<text transform="translate(2421.5,229.6) scale(0.9500,1)" font-family='"Liberation Serif", serif' font-size="37.2" text-anchor="start" fill="#231f20" stroke="none" font-weight="normal" xml:space="preserve" >58</text>
<line x1="2542.0" y1="233.6" x2="2620.0" y2="233.6" stroke-width="2.8" />
<line x1="2542.0" y1="233.6" x2="2300.0" y2="454.0" stroke-width="2.6" />
<text transform="translate(2564.0,229.6) scale(0.9500,1)" font-family='"Liberation Serif", serif' font-size="37.2" text-anchor="start" fill="#231f20" stroke="none" font-weight="normal" xml:space="preserve" >04</text>
<line x1="2678.4" y1="233.6" x2="2757.6" y2="233.6" stroke-width="2.8" />
<line x1="2678.4" y1="233.6" x2="2486.0" y2="385.2" stroke-width="2.6" />
<text transform="translate(2701.5,229.6) scale(0.9500,1)" font-family='"Liberation Serif", serif' font-size="37.2" text-anchor="start" fill="#231f20" stroke="none" font-weight="normal" xml:space="preserve" >01</text>
<circle cx="2485.6" cy="385.6" r="2.6" fill="#231f20" stroke="none"/>
<line x1="2066.0" y1="704.7" x2="2144.8" y2="704.7" stroke-width="2.6" />
<line x1="2144.8" y1="704.7" x2="2214.0" y2="475.0" stroke-width="2.6" />
<text transform="translate(2075.5,696.6) scale(0.9500,1)" font-family='"Liberation Serif", serif' font-size="37.2" text-anchor="start" fill="#231f20" stroke="none" font-weight="normal" xml:space="preserve" >06</text>
<line x1="2215.0" y1="704.7" x2="2293.4" y2="704.7" stroke-width="2.6" />
<line x1="2293.4" y1="704.7" x2="2245.0" y2="570.0" stroke-width="2.6" />
<text transform="translate(2224.5,696.6) scale(0.9500,1)" font-family='"Liberation Serif", serif' font-size="37.2" text-anchor="start" fill="#231f20" stroke="none" font-weight="normal" xml:space="preserve" >68</text>
<line x1="2356.0" y1="704.7" x2="2435.3" y2="704.7" stroke-width="2.6" />
<line x1="2435.3" y1="704.7" x2="2399.0" y2="476.0" stroke-width="2.6" />
<text transform="translate(2378.5,696.6) scale(0.9500,1)" font-family='"Liberation Serif", serif' font-size="37.2" text-anchor="start" fill="#231f20" stroke="none" font-weight="normal" xml:space="preserve" >19</text>
<line x1="2510.5" y1="704.7" x2="2589.0" y2="704.7" stroke-width="2.6" />
<line x1="2510.5" y1="704.7" x2="2487.2" y2="486.6" stroke-width="2.6" />
<text transform="translate(2533.5,696.6) scale(0.9500,1)" font-family='"Liberation Serif", serif' font-size="37.2" text-anchor="start" fill="#231f20" stroke="none" font-weight="normal" xml:space="preserve" >79</text>
<circle cx="2399" cy="476" r="2.6" fill="#231f20" stroke="none"/>
<circle cx="2487.2" cy="486.6" r="2.6" fill="#231f20" stroke="none"/>
<text transform="translate(1628.0,107.5) scale(0.9000,1)" x="7.78 23.33 38.89" font-family='"Liberation Serif", serif' font-size="28" text-anchor="middle" fill="#231f20" stroke="none" xml:space="preserve">A-A</text>
<line x1="2266.3" y1="1230.0" x2="2266.3" y2="1487.0" stroke-width="5.2" />
<line x1="2264.0" y1="1231.8" x2="3188.0" y2="1231.8" stroke-width="3.8" />
<line x1="2726.6" y1="1231.0" x2="2726.6" y2="1487.0" stroke-width="5.2" />
<line x1="2726.0" y1="1307.0" x2="3186.0" y2="1307.0" stroke-width="4.2" />
<line x1="2726.0" y1="1333.0" x2="3186.0" y2="1333.0" stroke-width="4.2" />
<line x1="2726.0" y1="1384.2" x2="3186.0" y2="1384.2" stroke-width="4.6" />
<line x1="2726.0" y1="1409.6" x2="3186.0" y2="1409.6" stroke-width="4.4" />
<line x1="2955.6" y1="1307.0" x2="2955.6" y2="1409.6" stroke-width="5.6" />
<line x1="2802.0" y1="1333.0" x2="2802.0" y2="1384.0" stroke-width="5.0" />
<line x1="2878.7" y1="1333.0" x2="2878.7" y2="1384.0" stroke-width="5.0" />
<text transform="translate(2922.5,1283.2) scale(0.9350,1)" font-family='"Liberation Serif", serif' font-size="40.5" text-anchor="start" fill="#231f20" stroke="none" font-weight="normal" xml:space="preserve" >R290</text>
<text transform="translate(3018.7,1327.3) scale(0.8404,1)" font-family='"Liberation Mono", monospace' font-size="23.5" text-anchor="start" fill="#231f20" stroke="#231f20" stroke-width="0.6" font-weight="normal" xml:space="preserve" >Poids (kg)</text>
<text transform="translate(2306.0,1350.3) scale(0.8511,1)" font-family='"Liberation Mono", monospace' font-size="23.5" text-anchor="start" fill="#231f20" stroke="#231f20" stroke-width="0.6" font-weight="normal" xml:space="preserve" >couronne d’orientation (roulement)</text>
<text transform="translate(2306.0,1380.2) scale(0.8511,1)" font-family='"Liberation Mono", monospace' font-size="23.5" text-anchor="start" fill="#231f20" stroke="#231f20" stroke-width="0.6" font-weight="normal" xml:space="preserve" >pour pelle Hyundai</text>
<text transform="translate(2734.0,1456.6) scale(0.8156,1)" font-family='"Liberation Mono", monospace' font-size="23.5" text-anchor="start" fill="#231f20" stroke="#231f20" stroke-width="0.6" font-weight="normal" xml:space="preserve" >Luoyang JCB Bearing Technology Co., Ltd</text>
<text transform="translate(271.6,118.2) scale(2.02,1)" font-family='"Liberation Sans", sans-serif' font-weight="bold" font-size="95" text-anchor="middle" fill="#9a8f1a" stroke="#8a7a18" stroke-width="5" transform-origin="0 0" opacity="0.55" dx="1.5" dy="2.5">J</text>
<text transform="translate(271.6,118.2) scale(2.02,1)" font-family='"Liberation Sans", sans-serif' font-weight="bold" font-size="95" text-anchor="middle" fill="#e6e52a" stroke="#e6e52a" stroke-width="3.5" stroke-linejoin="round">J</text>
<text transform="translate(406.8,119.4) scale(1.72,1)" font-family='"Liberation Sans", sans-serif' font-weight="bold" font-size="95" text-anchor="middle" fill="#9a8f1a" stroke="#8a7a18" stroke-width="5" transform-origin="0 0" opacity="0.55" dx="1.5" dy="2.5">C</text>
<text transform="translate(406.8,119.4) scale(1.72,1)" font-family='"Liberation Sans", sans-serif' font-weight="bold" font-size="95" text-anchor="middle" fill="#e6e52a" stroke="#e6e52a" stroke-width="3.5" stroke-linejoin="round">C</text>
<text transform="translate(550.3,118.2) scale(1.745,1)" font-family='"Liberation Sans", sans-serif' font-weight="bold" font-size="95" text-anchor="middle" fill="#9a8f1a" stroke="#8a7a18" stroke-width="5" transform-origin="0 0" opacity="0.55" dx="1.5" dy="2.5">B</text>
<text transform="translate(550.3,118.2) scale(1.745,1)" font-family='"Liberation Sans", sans-serif' font-weight="bold" font-size="95" text-anchor="middle" fill="#e6e52a" stroke="#e6e52a" stroke-width="3.5" stroke-linejoin="round">B</text>
<path d="M2613.5,801.70h56.3v5.55h-56.3zM2701.6,801.70h24.3v5.55h-24.3zM2733.7,801.70h8.3v5.55h-8.3zM2757.7,801.70h32.3v5.55h-32.3zM2805.8,801.70h8.3v5.55h-8.3zM2829.8,801.70h8.3v5.55h-8.3zM2845.8,801.70h16.3v5.55h-16.3zM2869.9,801.70h16.3v5.55h-16.3zM2901.9,801.70h16.3v5.55h-16.3zM2950.0,801.70h8.3v5.55h-8.3zM2982.1,801.70h56.3v5.55h-56.3zM2613.5,807.00h8.3v5.55h-8.3zM2661.6,807.00h8.3v5.55h-8.3zM2677.6,807.00h8.3v5.55h-8.3zM2717.7,807.00h16.3v5.55h-16.3zM2749.7,807.00h16.3v5.55h-16.3zM2773.7,807.00h8.3v5.55h-8.3zM2797.8,807.00h16.3v5.55h-16.3zM2821.8,807.00h8.3v5.55h-8.3zM2861.9,807.00h32.3v5.55h-32.3zM2901.9,807.00h8.3v5.55h-8.3zM2926.0,807.00h8.3v5.55h-8.3zM2942.0,807.00h24.3v5.55h-24.3zM2982.1,807.00h8.3v5.55h-8.3zM3030.1,807.00h8.3v5.55h-8.3zM2613.5,812.30h8.3v5.55h-8.3zM2629.5,812.30h24.3v5.55h-24.3zM2661.6,812.30h8.3v5.55h-8.3zM2685.6,812.30h8.3v5.55h-8.3zM2717.7,812.30h8.3v5.55h-8.3zM2733.7,812.30h8.3v5.55h-8.3zM2757.7,812.30h24.3v5.55h-24.3zM2797.8,812.30h8.3v5.55h-8.3zM2813.8,812.30h8.3v5.55h-8.3zM2829.8,812.30h8.3v5.55h-8.3zM2861.9,812.30h24.3v5.55h-24.3zM2893.9,812.30h8.3v5.55h-8.3zM2934.0,812.30h8.3v5.55h-8.3zM2958.0,812.30h8.3v5.55h-8.3zM2982.1,812.30h8.3v5.55h-8.3zM2998.1,812.30h24.3v5.55h-24.3zM3030.1,812.30h8.3v5.55h-8.3zM2613.5,817.60h8.3v5.55h-8.3zM2629.5,817.60h24.3v5.55h-24.3zM2661.6,817.60h8.3v5.55h-8.3zM2677.6,817.60h16.3v5.55h-16.3zM2709.6,817.60h8.3v5.55h-8.3zM2733.7,817.60h40.3v5.55h-40.3zM2821.8,817.60h16.3v5.55h-16.3zM2877.9,817.60h48.3v5.55h-48.3zM2950.0,817.60h8.3v5.55h-8.3zM2966.0,817.60h8.3v5.55h-8.3zM2982.1,817.60h8.3v5.55h-8.3zM2998.1,817.60h24.3v5.55h-24.3zM3030.1,817.60h8.3v5.55h-8.3zM2613.5,822.90h8.3v5.55h-8.3zM2629.5,822.90h24.3v5.55h-24.3zM2661.6,822.90h8.3v5.55h-8.3zM2701.6,822.90h40.3v5.55h-40.3zM2765.7,822.90h8.3v5.55h-8.3zM2781.8,822.90h64.3v5.55h-64.3zM2853.9,822.90h8.3v5.55h-8.3zM2893.9,822.90h24.3v5.55h-24.3zM2926.0,822.90h8.3v5.55h-8.3zM2942.0,822.90h16.3v5.55h-16.3zM2982.1,822.90h8.3v5.55h-8.3zM2998.1,822.90h24.3v5.55h-24.3zM3030.1,822.90h8.3v5.55h-8.3zM2613.5,828.20h8.3v5.55h-8.3zM2661.6,828.20h8.3v5.55h-8.3zM2677.6,828.20h8.3v5.55h-8.3zM2717.7,828.20h16.3v5.55h-16.3zM2757.7,828.20h8.3v5.55h-8.3zM2773.7,828.20h8.3v5.55h-8.3zM2789.8,828.20h8.3v5.55h-8.3zM2805.8,828.20h8.3v5.55h-8.3zM2837.8,828.20h8.3v5.55h-8.3zM2877.9,828.20h16.3v5.55h-16.3zM2901.9,828.20h8.3v5.55h-8.3zM2918.0,828.20h16.3v5.55h-16.3zM2942.0,828.20h16.3v5.55h-16.3zM2982.1,828.20h8.3v5.55h-8.3zM3030.1,828.20h8.3v5.55h-8.3zM2613.5,833.50h56.3v5.55h-56.3zM2677.6,833.50h8.3v5.55h-8.3zM2693.6,833.50h8.3v5.55h-8.3zM2709.6,833.50h8.3v5.55h-8.3zM2725.7,833.50h8.3v5.55h-8.3zM2741.7,833.50h8.3v5.55h-8.3zM2757.7,833.50h8.3v5.55h-8.3zM2773.7,833.50h8.3v5.55h-8.3zM2789.8,833.50h8.3v5.55h-8.3zM2805.8,833.50h8.3v5.55h-8.3zM2821.8,833.50h8.3v5.55h-8.3zM2837.8,833.50h8.3v5.55h-8.3zM2853.9,833.50h8.3v5.55h-8.3zM2869.9,833.50h8.3v5.55h-8.3zM2885.9,833.50h8.3v5.55h-8.3zM2901.9,833.50h8.3v5.55h-8.3zM2918.0,833.50h8.3v5.55h-8.3zM2934.0,833.50h8.3v5.55h-8.3zM2950.0,833.50h8.3v5.55h-8.3zM2966.0,833.50h8.3v5.55h-8.3zM2982.1,833.50h56.3v5.55h-56.3zM2701.6,838.80h16.3v5.55h-16.3zM2725.7,838.80h40.3v5.55h-40.3zM2773.7,838.80h24.3v5.55h-24.3zM2805.8,838.80h8.3v5.55h-8.3zM2837.8,838.80h16.3v5.55h-16.3zM2869.9,838.80h16.3v5.55h-16.3zM2909.9,838.80h24.3v5.55h-24.3zM2613.5,844.10h40.3v5.55h-40.3zM2661.6,844.10h40.3v5.55h-40.3zM2709.6,844.10h32.3v5.55h-32.3zM2757.7,844.10h16.3v5.55h-16.3zM2789.8,844.10h8.3v5.55h-8.3zM2805.8,844.10h64.3v5.55h-64.3zM2877.9,844.10h8.3v5.55h-8.3zM2901.9,844.10h8.3v5.55h-8.3zM2918.0,844.10h8.3v5.55h-8.3zM2950.0,844.10h8.3v5.55h-8.3zM2974.0,844.10h8.3v5.55h-8.3zM2990.1,844.10h8.3v5.55h-8.3zM3006.1,844.10h8.3v5.55h-8.3zM3022.1,844.10h8.3v5.55h-8.3zM2613.5,849.40h32.3v5.55h-32.3zM2653.6,849.40h8.3v5.55h-8.3zM2669.6,849.40h8.3v5.55h-8.3zM2685.6,849.40h8.3v5.55h-8.3zM2709.6,849.40h8.3v5.55h-8.3zM2741.7,849.40h24.3v5.55h-24.3zM2781.8,849.40h8.3v5.55h-8.3zM2813.8,849.40h56.3v5.55h-56.3zM2877.9,849.40h8.3v5.55h-8.3zM2901.9,849.40h16.3v5.55h-16.3zM2926.0,849.40h8.3v5.55h-8.3zM2942.0,849.40h24.3v5.55h-24.3zM2990.1,849.40h16.3v5.55h-16.3zM3022.1,849.40h8.3v5.55h-8.3zM2613.5,854.70h8.3v5.55h-8.3zM2661.6,854.70h16.3v5.55h-16.3zM2685.6,854.70h8.3v5.55h-8.3zM2709.6,854.70h16.3v5.55h-16.3zM2733.7,854.70h40.3v5.55h-40.3zM2789.8,854.70h8.3v5.55h-8.3zM2877.9,854.70h16.3v5.55h-16.3zM2901.9,854.70h16.3v5.55h-16.3zM2926.0,854.70h8.3v5.55h-8.3zM2950.0,854.70h32.3v5.55h-32.3zM2990.1,854.70h16.3v5.55h-16.3zM2629.5,860.00h8.3v5.55h-8.3zM2645.5,860.00h16.3v5.55h-16.3zM2693.6,860.00h8.3v5.55h-8.3zM2709.6,860.00h8.3v5.55h-8.3zM2725.7,860.00h8.3v5.55h-8.3zM2741.7,860.00h24.3v5.55h-24.3zM2781.8,860.00h40.3v5.55h-40.3zM2845.8,860.00h8.3v5.55h-8.3zM2861.9,860.00h32.3v5.55h-32.3zM2926.0,860.00h16.3v5.55h-16.3zM2950.0,860.00h8.3v5.55h-8.3zM2990.1,860.00h8.3v5.55h-8.3zM2613.5,865.30h16.3v5.55h-16.3zM2661.6,865.30h8.3v5.55h-8.3zM2685.6,865.30h32.3v5.55h-32.3zM2741.7,865.30h24.3v5.55h-24.3zM2797.8,865.30h8.3v5.55h-8.3zM2813.8,865.30h16.3v5.55h-16.3zM2837.8,865.30h16.3v5.55h-16.3zM2861.9,865.30h16.3v5.55h-16.3zM2893.9,865.30h24.3v5.55h-24.3zM2926.0,865.30h8.3v5.55h-8.3zM2942.0,865.30h48.3v5.55h-48.3zM2998.1,865.30h8.3v5.55h-8.3zM3014.1,865.30h24.3v5.55h-24.3zM2621.5,870.60h24.3v5.55h-24.3zM2653.6,870.60h8.3v5.55h-8.3zM2669.6,870.60h8.3v5.55h-8.3zM2701.6,870.60h8.3v5.55h-8.3zM2717.7,870.60h24.3v5.55h-24.3zM2781.8,870.60h24.3v5.55h-24.3zM2813.8,870.60h8.3v5.55h-8.3zM2829.8,870.60h16.3v5.55h-16.3zM2853.9,870.60h8.3v5.55h-8.3zM2893.9,870.60h24.3v5.55h-24.3zM2926.0,870.60h16.3v5.55h-16.3zM2950.0,870.60h16.3v5.55h-16.3zM2974.0,870.60h8.3v5.55h-8.3zM2998.1,870.60h8.3v5.55h-8.3zM3022.1,870.60h16.3v5.55h-16.3zM2613.5,875.90h8.3v5.55h-8.3zM2629.5,875.90h8.3v5.55h-8.3zM2653.6,875.90h16.3v5.55h-16.3zM2701.6,875.90h16.3v5.55h-16.3zM2741.7,875.90h16.3v5.55h-16.3zM2781.8,875.90h8.3v5.55h-8.3zM2805.8,875.90h16.3v5.55h-16.3zM2829.8,875.90h8.3v5.55h-8.3zM2861.9,875.90h8.3v5.55h-8.3zM2877.9,875.90h32.3v5.55h-32.3zM2918.0,875.90h32.3v5.55h-32.3zM2966.0,875.90h24.3v5.55h-24.3zM3006.1,875.90h8.3v5.55h-8.3zM3022.1,875.90h8.3v5.55h-8.3zM2621.5,881.20h8.3v5.55h-8.3zM2669.6,881.20h16.3v5.55h-16.3zM2701.6,881.20h24.3v5.55h-24.3zM2797.8,881.20h24.3v5.55h-24.3zM2829.8,881.20h8.3v5.55h-8.3zM2845.8,881.20h16.3v5.55h-16.3zM2869.9,881.20h16.3v5.55h-16.3zM2918.0,881.20h8.3v5.55h-8.3zM2942.0,881.20h8.3v5.55h-8.3zM2958.0,881.20h8.3v5.55h-8.3zM2974.0,881.20h8.3v5.55h-8.3zM2998.1,881.20h16.3v5.55h-16.3zM3022.1,881.20h8.3v5.55h-8.3zM2613.5,886.50h8.3v5.55h-8.3zM2629.5,886.50h40.3v5.55h-40.3zM2749.7,886.50h8.3v5.55h-8.3zM2781.8,886.50h8.3v5.55h-8.3zM2805.8,886.50h8.3v5.55h-8.3zM2821.8,886.50h8.3v5.55h-8.3zM2837.8,886.50h32.3v5.55h-32.3zM2877.9,886.50h8.3v5.55h-8.3zM2901.9,886.50h16.3v5.55h-16.3zM2990.1,886.50h16.3v5.55h-16.3zM3022.1,886.50h8.3v5.55h-8.3zM2613.5,891.80h8.3v5.55h-8.3zM2637.5,891.80h8.3v5.55h-8.3zM2669.6,891.80h16.3v5.55h-16.3zM2693.6,891.80h8.3v5.55h-8.3zM2709.6,891.80h16.3v5.55h-16.3zM2733.7,891.80h8.3v5.55h-8.3zM2757.7,891.80h24.3v5.55h-24.3zM2805.8,891.80h16.3v5.55h-16.3zM2829.8,891.80h40.3v5.55h-40.3zM2877.9,891.80h8.3v5.55h-8.3zM2901.9,891.80h8.3v5.55h-8.3zM2942.0,891.80h24.3v5.55h-24.3zM2613.5,897.10h8.3v5.55h-8.3zM2629.5,897.10h8.3v5.55h-8.3zM2645.5,897.10h72.4v5.55h-72.4zM2725.7,897.10h8.3v5.55h-8.3zM2749.7,897.10h8.3v5.55h-8.3zM2773.7,897.10h16.3v5.55h-16.3zM2813.8,897.10h8.3v5.55h-8.3zM2829.8,897.10h8.3v5.55h-8.3zM2869.9,897.10h16.3v5.55h-16.3zM2901.9,897.10h8.3v5.55h-8.3zM2918.0,897.10h8.3v5.55h-8.3zM2934.0,897.10h8.3v5.55h-8.3zM2950.0,897.10h16.3v5.55h-16.3zM2998.1,897.10h8.3v5.55h-8.3zM2621.5,902.40h40.3v5.55h-40.3zM2677.6,902.40h8.3v5.55h-8.3zM2693.6,902.40h24.3v5.55h-24.3zM2733.7,902.40h8.3v5.55h-8.3zM2757.7,902.40h24.3v5.55h-24.3zM2797.8,902.40h24.3v5.55h-24.3zM2829.8,902.40h24.3v5.55h-24.3zM2861.9,902.40h16.3v5.55h-16.3zM2885.9,902.40h8.3v5.55h-8.3zM2909.9,902.40h16.3v5.55h-16.3zM2934.0,902.40h32.3v5.55h-32.3zM2982.1,902.40h16.3v5.55h-16.3zM3006.1,902.40h8.3v5.55h-8.3zM3030.1,902.40h8.3v5.55h-8.3zM2613.5,907.70h8.3v5.55h-8.3zM2629.5,907.70h16.3v5.55h-16.3zM2661.6,907.70h8.3v5.55h-8.3zM2685.6,907.70h32.3v5.55h-32.3zM2741.7,907.70h8.3v5.55h-8.3zM2757.7,907.70h8.3v5.55h-8.3zM2773.7,907.70h8.3v5.55h-8.3zM2797.8,907.70h8.3v5.55h-8.3zM2821.8,907.70h16.3v5.55h-16.3zM2845.8,907.70h8.3v5.55h-8.3zM2861.9,907.70h8.3v5.55h-8.3zM2877.9,907.70h32.3v5.55h-32.3zM2926.0,907.70h8.3v5.55h-8.3zM2958.0,907.70h16.3v5.55h-16.3zM2998.1,907.70h8.3v5.55h-8.3zM3030.1,907.70h8.3v5.55h-8.3zM2613.5,913.00h16.3v5.55h-16.3zM2637.5,913.00h16.3v5.55h-16.3zM2685.6,913.00h16.3v5.55h-16.3zM2709.6,913.00h32.3v5.55h-32.3zM2749.7,913.00h8.3v5.55h-8.3zM2781.8,913.00h16.3v5.55h-16.3zM2805.8,913.00h8.3v5.55h-8.3zM2829.8,913.00h32.3v5.55h-32.3zM2909.9,913.00h8.3v5.55h-8.3zM2926.0,913.00h8.3v5.55h-8.3zM2950.0,913.00h8.3v5.55h-8.3zM2974.0,913.00h8.3v5.55h-8.3zM2998.1,913.00h40.3v5.55h-40.3zM2613.5,918.30h24.3v5.55h-24.3zM2645.5,918.30h24.3v5.55h-24.3zM2685.6,918.30h16.3v5.55h-16.3zM2717.7,918.30h16.3v5.55h-16.3zM2741.7,918.30h8.3v5.55h-8.3zM2757.7,918.30h16.3v5.55h-16.3zM2789.8,918.30h8.3v5.55h-8.3zM2813.8,918.30h8.3v5.55h-8.3zM2829.8,918.30h8.3v5.55h-8.3zM2845.8,918.30h8.3v5.55h-8.3zM2861.9,918.30h8.3v5.55h-8.3zM2877.9,918.30h16.3v5.55h-16.3zM2901.9,918.30h8.3v5.55h-8.3zM2918.0,918.30h8.3v5.55h-8.3zM2934.0,918.30h16.3v5.55h-16.3zM2982.1,918.30h8.3v5.55h-8.3zM2998.1,918.30h8.3v5.55h-8.3zM3014.1,918.30h16.3v5.55h-16.3zM2621.5,923.60h16.3v5.55h-16.3zM2669.6,923.60h8.3v5.55h-8.3zM2693.6,923.60h24.3v5.55h-24.3zM2725.7,923.60h16.3v5.55h-16.3zM2749.7,923.60h16.3v5.55h-16.3zM2781.8,923.60h16.3v5.55h-16.3zM2805.8,923.60h16.3v5.55h-16.3zM2829.8,923.60h8.3v5.55h-8.3zM2845.8,923.60h8.3v5.55h-8.3zM2869.9,923.60h16.3v5.55h-16.3zM2926.0,923.60h8.3v5.55h-8.3zM2942.0,923.60h8.3v5.55h-8.3zM2966.0,923.60h16.3v5.55h-16.3zM2998.1,923.60h16.3v5.55h-16.3zM3022.1,923.60h8.3v5.55h-8.3zM2629.5,928.90h8.3v5.55h-8.3zM2645.5,928.90h40.3v5.55h-40.3zM2693.6,928.90h8.3v5.55h-8.3zM2717.7,928.90h24.3v5.55h-24.3zM2757.7,928.90h16.3v5.55h-16.3zM2789.8,928.90h8.3v5.55h-8.3zM2805.8,928.90h40.3v5.55h-40.3zM2861.9,928.90h8.3v5.55h-8.3zM2877.9,928.90h8.3v5.55h-8.3zM2901.9,928.90h8.3v5.55h-8.3zM2942.0,928.90h8.3v5.55h-8.3zM2966.0,928.90h40.3v5.55h-40.3zM3014.1,928.90h24.3v5.55h-24.3zM2621.5,934.20h8.3v5.55h-8.3zM2645.5,934.20h8.3v5.55h-8.3zM2677.6,934.20h24.3v5.55h-24.3zM2741.7,934.20h24.3v5.55h-24.3zM2781.8,934.20h8.3v5.55h-8.3zM2805.8,934.20h8.3v5.55h-8.3zM2837.8,934.20h24.3v5.55h-24.3zM2877.9,934.20h8.3v5.55h-8.3zM2901.9,934.20h16.3v5.55h-16.3zM2934.0,934.20h24.3v5.55h-24.3zM2966.0,934.20h8.3v5.55h-8.3zM2998.1,934.20h16.3v5.55h-16.3zM3022.1,934.20h8.3v5.55h-8.3zM2637.5,939.50h16.3v5.55h-16.3zM2661.6,939.50h8.3v5.55h-8.3zM2677.6,939.50h8.3v5.55h-8.3zM2701.6,939.50h8.3v5.55h-8.3zM2717.7,939.50h8.3v5.55h-8.3zM2733.7,939.50h16.3v5.55h-16.3zM2765.7,939.50h8.3v5.55h-8.3zM2789.8,939.50h24.3v5.55h-24.3zM2821.8,939.50h8.3v5.55h-8.3zM2837.8,939.50h8.3v5.55h-8.3zM2861.9,939.50h24.3v5.55h-24.3zM2893.9,939.50h16.3v5.55h-16.3zM2934.0,939.50h8.3v5.55h-8.3zM2950.0,939.50h24.3v5.55h-24.3zM2982.1,939.50h8.3v5.55h-8.3zM2998.1,939.50h8.3v5.55h-8.3zM3014.1,939.50h8.3v5.55h-8.3zM2613.5,944.80h16.3v5.55h-16.3zM2645.5,944.80h8.3v5.55h-8.3zM2677.6,944.80h40.3v5.55h-40.3zM2725.7,944.80h8.3v5.55h-8.3zM2741.7,944.80h8.3v5.55h-8.3zM2781.8,944.80h32.3v5.55h-32.3zM2837.8,944.80h40.3v5.55h-40.3zM2909.9,944.80h8.3v5.55h-8.3zM2926.0,944.80h32.3v5.55h-32.3zM2966.0,944.80h8.3v5.55h-8.3zM2998.1,944.80h16.3v5.55h-16.3zM2613.5,950.10h8.3v5.55h-8.3zM2629.5,950.10h8.3v5.55h-8.3zM2645.5,950.10h40.3v5.55h-40.3zM2701.6,950.10h8.3v5.55h-8.3zM2741.7,950.10h8.3v5.55h-8.3zM2757.7,950.10h8.3v5.55h-8.3zM2773.7,950.10h16.3v5.55h-16.3zM2805.8,950.10h48.3v5.55h-48.3zM2861.9,950.10h8.3v5.55h-8.3zM2885.9,950.10h32.3v5.55h-32.3zM2942.0,950.10h8.3v5.55h-8.3zM2966.0,950.10h40.3v5.55h-40.3zM3014.1,950.10h8.3v5.55h-8.3zM2629.5,955.40h8.3v5.55h-8.3zM2653.6,955.40h8.3v5.55h-8.3zM2677.6,955.40h8.3v5.55h-8.3zM2693.6,955.40h48.3v5.55h-48.3zM2765.7,955.40h8.3v5.55h-8.3zM2781.8,955.40h24.3v5.55h-24.3zM2813.8,955.40h16.3v5.55h-16.3zM2845.8,955.40h16.3v5.55h-16.3zM2877.9,955.40h8.3v5.55h-8.3zM2893.9,955.40h24.3v5.55h-24.3zM2950.0,955.40h8.3v5.55h-8.3zM2966.0,955.40h48.3v5.55h-48.3zM3030.1,955.40h8.3v5.55h-8.3zM2661.6,960.70h16.3v5.55h-16.3zM2685.6,960.70h8.3v5.55h-8.3zM2701.6,960.70h16.3v5.55h-16.3zM2749.7,960.70h8.3v5.55h-8.3zM2773.7,960.70h16.3v5.55h-16.3zM2805.8,960.70h48.3v5.55h-48.3zM2869.9,960.70h32.3v5.55h-32.3zM2909.9,960.70h40.3v5.55h-40.3zM2966.0,960.70h8.3v5.55h-8.3zM2998.1,960.70h32.3v5.55h-32.3zM2621.5,966.00h8.3v5.55h-8.3zM2637.5,966.00h8.3v5.55h-8.3zM2653.6,966.00h8.3v5.55h-8.3zM2693.6,966.00h8.3v5.55h-8.3zM2717.7,966.00h8.3v5.55h-8.3zM2741.7,966.00h8.3v5.55h-8.3zM2765.7,966.00h16.3v5.55h-16.3zM2797.8,966.00h8.3v5.55h-8.3zM2813.8,966.00h16.3v5.55h-16.3zM2845.8,966.00h16.3v5.55h-16.3zM2877.9,966.00h16.3v5.55h-16.3zM2901.9,966.00h32.3v5.55h-32.3zM2942.0,966.00h8.3v5.55h-8.3zM2958.0,966.00h8.3v5.55h-8.3zM2974.0,966.00h8.3v5.55h-8.3zM2998.1,966.00h8.3v5.55h-8.3zM3030.1,966.00h8.3v5.55h-8.3zM2621.5,971.30h16.3v5.55h-16.3zM2645.5,971.30h8.3v5.55h-8.3zM2661.6,971.30h8.3v5.55h-8.3zM2677.6,971.30h40.3v5.55h-40.3zM2749.7,971.30h8.3v5.55h-8.3zM2781.8,971.30h8.3v5.55h-8.3zM2797.8,971.30h24.3v5.55h-24.3zM2837.8,971.30h16.3v5.55h-16.3zM2861.9,971.30h48.3v5.55h-48.3zM2950.0,971.30h8.3v5.55h-8.3zM2974.0,971.30h8.3v5.55h-8.3zM2990.1,971.30h8.3v5.55h-8.3zM3014.1,971.30h8.3v5.55h-8.3zM2629.5,976.60h16.3v5.55h-16.3zM2677.6,976.60h16.3v5.55h-16.3zM2709.6,976.60h16.3v5.55h-16.3zM2733.7,976.60h8.3v5.55h-8.3zM2757.7,976.60h24.3v5.55h-24.3zM2797.8,976.60h40.3v5.55h-40.3zM2853.9,976.60h8.3v5.55h-8.3zM2893.9,976.60h24.3v5.55h-24.3zM2934.0,976.60h40.3v5.55h-40.3zM2982.1,976.60h8.3v5.55h-8.3zM2998.1,976.60h8.3v5.55h-8.3zM2621.5,981.90h8.3v5.55h-8.3zM2637.5,981.90h16.3v5.55h-16.3zM2661.6,981.90h8.3v5.55h-8.3zM2677.6,981.90h8.3v5.55h-8.3zM2757.7,981.90h8.3v5.55h-8.3zM2773.7,981.90h8.3v5.55h-8.3zM2789.8,981.90h8.3v5.55h-8.3zM2829.8,981.90h16.3v5.55h-16.3zM2877.9,981.90h8.3v5.55h-8.3zM2893.9,981.90h16.3v5.55h-16.3zM2926.0,981.90h8.3v5.55h-8.3zM2950.0,981.90h8.3v5.55h-8.3zM2966.0,981.90h16.3v5.55h-16.3zM2998.1,981.90h16.3v5.55h-16.3zM2613.5,987.20h8.3v5.55h-8.3zM2637.5,987.20h24.3v5.55h-24.3zM2693.6,987.20h8.3v5.55h-8.3zM2709.6,987.20h16.3v5.55h-16.3zM2733.7,987.20h8.3v5.55h-8.3zM2757.7,987.20h32.3v5.55h-32.3zM2797.8,987.20h8.3v5.55h-8.3zM2821.8,987.20h8.3v5.55h-8.3zM2845.8,987.20h16.3v5.55h-16.3zM2885.9,987.20h8.3v5.55h-8.3zM2926.0,987.20h16.3v5.55h-16.3zM2966.0,987.20h8.3v5.55h-8.3zM2982.1,987.20h8.3v5.55h-8.3zM2998.1,987.20h16.3v5.55h-16.3zM3022.1,987.20h8.3v5.55h-8.3zM2613.5,992.50h8.3v5.55h-8.3zM2645.5,992.50h8.3v5.55h-8.3zM2661.6,992.50h16.3v5.55h-16.3zM2685.6,992.50h16.3v5.55h-16.3zM2709.6,992.50h8.3v5.55h-8.3zM2733.7,992.50h16.3v5.55h-16.3zM2757.7,992.50h8.3v5.55h-8.3zM2773.7,992.50h16.3v5.55h-16.3zM2805.8,992.50h16.3v5.55h-16.3zM2845.8,992.50h8.3v5.55h-8.3zM2861.9,992.50h8.3v5.55h-8.3zM2877.9,992.50h16.3v5.55h-16.3zM2901.9,992.50h24.3v5.55h-24.3zM2942.0,992.50h16.3v5.55h-16.3zM2974.0,992.50h16.3v5.55h-16.3zM3006.1,992.50h16.3v5.55h-16.3zM3030.1,992.50h8.3v5.55h-8.3zM2613.5,997.80h16.3v5.55h-16.3zM2645.5,997.80h8.3v5.55h-8.3zM2669.6,997.80h24.3v5.55h-24.3zM2701.6,997.80h8.3v5.55h-8.3zM2717.7,997.80h24.3v5.55h-24.3zM2749.7,997.80h8.3v5.55h-8.3zM2765.7,997.80h8.3v5.55h-8.3zM2781.8,997.80h32.3v5.55h-32.3zM2821.8,997.80h16.3v5.55h-16.3zM2845.8,997.80h16.3v5.55h-16.3zM2869.9,997.80h8.3v5.55h-8.3zM2909.9,997.80h8.3v5.55h-8.3zM2950.0,997.80h8.3v5.55h-8.3zM2998.1,997.80h8.3v5.55h-8.3zM3030.1,997.80h8.3v5.55h-8.3zM2629.5,1003.10h8.3v5.55h-8.3zM2645.5,1003.10h8.3v5.55h-8.3zM2661.6,1003.10h32.3v5.55h-32.3zM2717.7,1003.10h32.3v5.55h-32.3zM2757.7,1003.10h16.3v5.55h-16.3zM2789.8,1003.10h8.3v5.55h-8.3zM2821.8,1003.10h32.3v5.55h-32.3zM2869.9,1003.10h24.3v5.55h-24.3zM2901.9,1003.10h8.3v5.55h-8.3zM2926.0,1003.10h8.3v5.55h-8.3zM2950.0,1003.10h8.3v5.55h-8.3zM2966.0,1003.10h8.3v5.55h-8.3zM3022.1,1003.10h8.3v5.55h-8.3zM2613.5,1008.40h32.3v5.55h-32.3zM2685.6,1008.40h8.3v5.55h-8.3zM2725.7,1008.40h8.3v5.55h-8.3zM2749.7,1008.40h16.3v5.55h-16.3zM2773.7,1008.40h32.3v5.55h-32.3zM2813.8,1008.40h8.3v5.55h-8.3zM2853.9,1008.40h8.3v5.55h-8.3zM2869.9,1008.40h8.3v5.55h-8.3zM2885.9,1008.40h8.3v5.55h-8.3zM2901.9,1008.40h8.3v5.55h-8.3zM2918.0,1008.40h16.3v5.55h-16.3zM2942.0,1008.40h8.3v5.55h-8.3zM2958.0,1008.40h8.3v5.55h-8.3zM2974.0,1008.40h8.3v5.55h-8.3zM2998.1,1008.40h16.3v5.55h-16.3zM3022.1,1008.40h16.3v5.55h-16.3zM2613.5,1013.70h8.3v5.55h-8.3zM2629.5,1013.70h8.3v5.55h-8.3zM2645.5,1013.70h24.3v5.55h-24.3zM2685.6,1013.70h24.3v5.55h-24.3zM2717.7,1013.70h24.3v5.55h-24.3zM2757.7,1013.70h16.3v5.55h-16.3zM2789.8,1013.70h8.3v5.55h-8.3zM2805.8,1013.70h16.3v5.55h-16.3zM2829.8,1013.70h16.3v5.55h-16.3zM2853.9,1013.70h8.3v5.55h-8.3zM2877.9,1013.70h40.3v5.55h-40.3zM2942.0,1013.70h8.3v5.55h-8.3zM2966.0,1013.70h8.3v5.55h-8.3zM2990.1,1013.70h8.3v5.55h-8.3zM2613.5,1019.00h16.3v5.55h-16.3zM2645.5,1019.00h8.3v5.55h-8.3zM2677.6,1019.00h8.3v5.55h-8.3zM2741.7,1019.00h24.3v5.55h-24.3zM2781.8,1019.00h8.3v5.55h-8.3zM2797.8,1019.00h8.3v5.55h-8.3zM2821.8,1019.00h56.3v5.55h-56.3zM2901.9,1019.00h16.3v5.55h-16.3zM2926.0,1019.00h8.3v5.55h-8.3zM2942.0,1019.00h16.3v5.55h-16.3zM2966.0,1019.00h8.3v5.55h-8.3zM2982.1,1019.00h8.3v5.55h-8.3zM2998.1,1019.00h8.3v5.55h-8.3zM3014.1,1019.00h16.3v5.55h-16.3zM2613.5,1024.30h16.3v5.55h-16.3zM2637.5,1024.30h56.3v5.55h-56.3zM2701.6,1024.30h24.3v5.55h-24.3zM2733.7,1024.30h16.3v5.55h-16.3zM2757.7,1024.30h16.3v5.55h-16.3zM2781.8,1024.30h8.3v5.55h-8.3zM2805.8,1024.30h8.3v5.55h-8.3zM2821.8,1024.30h32.3v5.55h-32.3zM2877.9,1024.30h32.3v5.55h-32.3zM2926.0,1024.30h8.3v5.55h-8.3zM2950.0,1024.30h16.3v5.55h-16.3zM2974.0,1024.30h8.3v5.55h-8.3zM2998.1,1024.30h8.3v5.55h-8.3zM2621.5,1029.60h16.3v5.55h-16.3zM2701.6,1029.60h16.3v5.55h-16.3zM2741.7,1029.60h8.3v5.55h-8.3zM2757.7,1029.60h8.3v5.55h-8.3zM2781.8,1029.60h8.3v5.55h-8.3zM2797.8,1029.60h8.3v5.55h-8.3zM2813.8,1029.60h8.3v5.55h-8.3zM2845.8,1029.60h16.3v5.55h-16.3zM2877.9,1029.60h8.3v5.55h-8.3zM2926.0,1029.60h16.3v5.55h-16.3zM2958.0,1029.60h8.3v5.55h-8.3zM2982.1,1029.60h8.3v5.55h-8.3zM2998.1,1029.60h8.3v5.55h-8.3zM3030.1,1029.60h8.3v5.55h-8.3zM2637.5,1034.90h8.3v5.55h-8.3zM2661.6,1034.90h8.3v5.55h-8.3zM2677.6,1034.90h8.3v5.55h-8.3zM2701.6,1034.90h16.3v5.55h-16.3zM2725.7,1034.90h8.3v5.55h-8.3zM2741.7,1034.90h8.3v5.55h-8.3zM2757.7,1034.90h8.3v5.55h-8.3zM2773.7,1034.90h8.3v5.55h-8.3zM2797.8,1034.90h56.3v5.55h-56.3zM2885.9,1034.90h24.3v5.55h-24.3zM2966.0,1034.90h56.3v5.55h-56.3zM2677.6,1040.20h8.3v5.55h-8.3zM2693.6,1040.20h24.3v5.55h-24.3zM2725.7,1040.20h16.3v5.55h-16.3zM2749.7,1040.20h8.3v5.55h-8.3zM2765.7,1040.20h8.3v5.55h-8.3zM2781.8,1040.20h8.3v5.55h-8.3zM2805.8,1040.20h8.3v5.55h-8.3zM2837.8,1040.20h8.3v5.55h-8.3zM2853.9,1040.20h16.3v5.55h-16.3zM2893.9,1040.20h8.3v5.55h-8.3zM2909.9,1040.20h8.3v5.55h-8.3zM2942.0,1040.20h32.3v5.55h-32.3zM2998.1,1040.20h8.3v5.55h-8.3zM3014.1,1040.20h8.3v5.55h-8.3zM3030.1,1040.20h8.3v5.55h-8.3zM2613.5,1045.50h56.3v5.55h-56.3zM2677.6,1045.50h64.3v5.55h-64.3zM2749.7,1045.50h8.3v5.55h-8.3zM2781.8,1045.50h8.3v5.55h-8.3zM2797.8,1045.50h16.3v5.55h-16.3zM2821.8,1045.50h8.3v5.55h-8.3zM2837.8,1045.50h8.3v5.55h-8.3zM2861.9,1045.50h32.3v5.55h-32.3zM2901.9,1045.50h8.3v5.55h-8.3zM2918.0,1045.50h8.3v5.55h-8.3zM2934.0,1045.50h8.3v5.55h-8.3zM2950.0,1045.50h24.3v5.55h-24.3zM2982.1,1045.50h8.3v5.55h-8.3zM2998.1,1045.50h8.3v5.55h-8.3zM3014.1,1045.50h16.3v5.55h-16.3zM2613.5,1050.80h8.3v5.55h-8.3zM2661.6,1050.80h8.3v5.55h-8.3zM2685.6,1050.80h16.3v5.55h-16.3zM2709.6,1050.80h40.3v5.55h-40.3zM2773.7,1050.80h8.3v5.55h-8.3zM2797.8,1050.80h16.3v5.55h-16.3zM2837.8,1050.80h8.3v5.55h-8.3zM2853.9,1050.80h24.3v5.55h-24.3zM2885.9,1050.80h88.4v5.55h-88.4zM2998.1,1050.80h16.3v5.55h-16.3zM2613.5,1056.10h8.3v5.55h-8.3zM2629.5,1056.10h24.3v5.55h-24.3zM2661.6,1056.10h8.3v5.55h-8.3zM2677.6,1056.10h24.3v5.55h-24.3zM2709.6,1056.10h24.3v5.55h-24.3zM2749.7,1056.10h8.3v5.55h-8.3zM2781.8,1056.10h8.3v5.55h-8.3zM2805.8,1056.10h40.3v5.55h-40.3zM2885.9,1056.10h32.3v5.55h-32.3zM2926.0,1056.10h8.3v5.55h-8.3zM2942.0,1056.10h8.3v5.55h-8.3zM2966.0,1056.10h40.3v5.55h-40.3zM3022.1,1056.10h8.3v5.55h-8.3zM2613.5,1061.40h8.3v5.55h-8.3zM2629.5,1061.40h24.3v5.55h-24.3zM2661.6,1061.40h8.3v5.55h-8.3zM2677.6,1061.40h40.3v5.55h-40.3zM2725.7,1061.40h16.3v5.55h-16.3zM2757.7,1061.40h24.3v5.55h-24.3zM2813.8,1061.40h8.3v5.55h-8.3zM2837.8,1061.40h24.3v5.55h-24.3zM2869.9,1061.40h16.3v5.55h-16.3zM2893.9,1061.40h24.3v5.55h-24.3zM2942.0,1061.40h16.3v5.55h-16.3zM2966.0,1061.40h8.3v5.55h-8.3zM2982.1,1061.40h8.3v5.55h-8.3zM2998.1,1061.40h8.3v5.55h-8.3zM3014.1,1061.40h16.3v5.55h-16.3zM2613.5,1066.70h8.3v5.55h-8.3zM2629.5,1066.70h24.3v5.55h-24.3zM2661.6,1066.70h8.3v5.55h-8.3zM2677.6,1066.70h16.3v5.55h-16.3zM2701.6,1066.70h24.3v5.55h-24.3zM2757.7,1066.70h8.3v5.55h-8.3zM2773.7,1066.70h16.3v5.55h-16.3zM2797.8,1066.70h8.3v5.55h-8.3zM2821.8,1066.70h8.3v5.55h-8.3zM2837.8,1066.70h8.3v5.55h-8.3zM2861.9,1066.70h32.3v5.55h-32.3zM2926.0,1066.70h32.3v5.55h-32.3zM2974.0,1066.70h32.3v5.55h-32.3zM3014.1,1066.70h8.3v5.55h-8.3zM3030.1,1066.70h8.3v5.55h-8.3zM2613.5,1072.00h8.3v5.55h-8.3zM2661.6,1072.00h8.3v5.55h-8.3zM2677.6,1072.00h8.3v5.55h-8.3zM2717.7,1072.00h8.3v5.55h-8.3zM2733.7,1072.00h8.3v5.55h-8.3zM2757.7,1072.00h24.3v5.55h-24.3zM2789.8,1072.00h8.3v5.55h-8.3zM2829.8,1072.00h24.3v5.55h-24.3zM2869.9,1072.00h8.3v5.55h-8.3zM2885.9,1072.00h8.3v5.55h-8.3zM2918.0,1072.00h48.3v5.55h-48.3zM2990.1,1072.00h8.3v5.55h-8.3zM3022.1,1072.00h8.3v5.55h-8.3zM2613.5,1077.30h56.3v5.55h-56.3zM2677.6,1077.30h16.3v5.55h-16.3zM2717.7,1077.30h16.3v5.55h-16.3zM2741.7,1077.30h8.3v5.55h-8.3zM2757.7,1077.30h8.3v5.55h-8.3zM2773.7,1077.30h8.3v5.55h-8.3zM2797.8,1077.30h24.3v5.55h-24.3zM2861.9,1077.30h8.3v5.55h-8.3zM2885.9,1077.30h24.3v5.55h-24.3zM2918.0,1077.30h8.3v5.55h-8.3zM2942.0,1077.30h16.3v5.55h-16.3zM2966.0,1077.30h16.3v5.55h-16.3zM2998.1,1077.30h8.3v5.55h-8.3zM3014.1,1077.30h8.3v5.55h-8.3z" fill="#0b0b0b" stroke="none"/>
</svg>
</body></html>
